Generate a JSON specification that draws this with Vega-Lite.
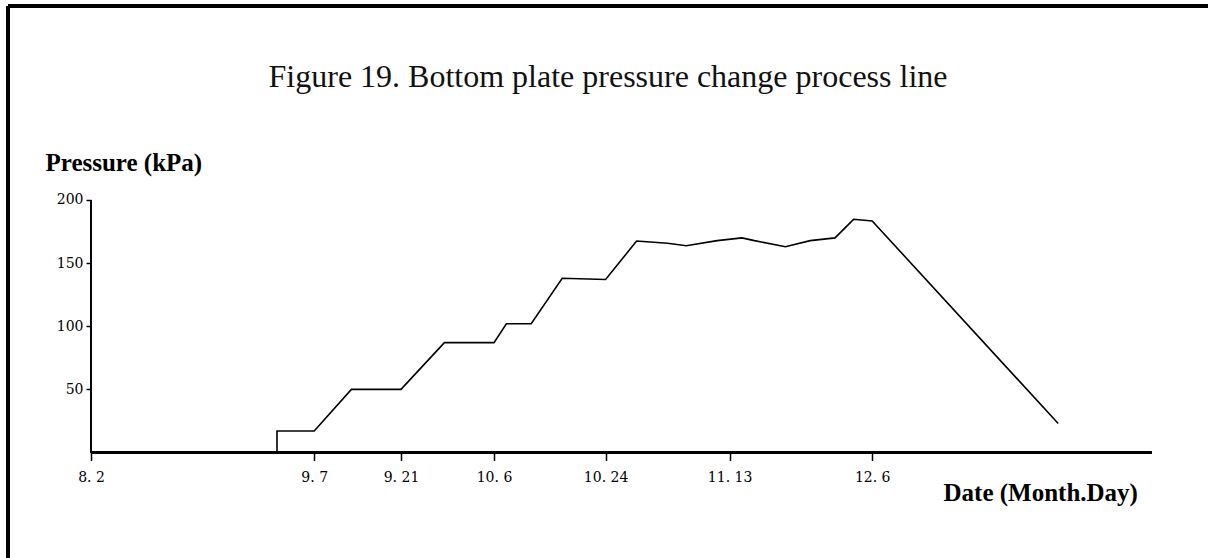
{
  "$schema": "https://vega.github.io/schema/vega-lite/v6.json",
  "width": 1200,
  "height": 552,
  "autosize": {"type": "none"},
  "padding": {"left": 8, "top": 6, "right": 0, "bottom": 0},
  "background": "white",
  "config": {
    "view": {"stroke": null},
    "axis": {
      "domain": false,
      "grid": false,
      "tickColor": "#000",
      "tickWidth": 1.5,
      "labelColor": "#000",
      "labelFont": "DejaVu Serif",
      "labelFontSize": 14,
      "titleColor": "#000",
      "titleFont": "Liberation Serif",
      "titleFontSize": 25,
      "titleFontWeight": "bold"
    }
  },
  "title": {
    "text": "Figure 19. Bottom plate pressure change process line",
    "font": "Liberation Serif",
    "fontSize": 32,
    "fontWeight": "normal",
    "color": "#111",
    "anchor": "middle",
    "frame": "group",
    "baseline": "alphabetic",
    "offset": -114
  },
  "data": {
    "values": [
      {"date": "2008-08-20", "pressure": 0},
      {"date": "2008-09-01", "pressure": 0},
      {"date": "2008-09-01", "pressure": 17},
      {"date": "2008-09-07", "pressure": 17},
      {"date": "2008-09-13", "pressure": 50},
      {"date": "2008-09-21", "pressure": 50},
      {"date": "2008-09-28", "pressure": 87},
      {"date": "2008-10-06", "pressure": 87},
      {"date": "2008-10-08", "pressure": 102},
      {"date": "2008-10-12", "pressure": 102},
      {"date": "2008-10-17", "pressure": 138},
      {"date": "2008-10-24", "pressure": 137},
      {"date": "2008-10-29", "pressure": 167.5},
      {"date": "2008-11-03", "pressure": 165.7},
      {"date": "2008-11-06", "pressure": 163.8},
      {"date": "2008-11-11", "pressure": 167.8},
      {"date": "2008-11-15", "pressure": 170},
      {"date": "2008-11-17", "pressure": 167.8},
      {"date": "2008-11-22", "pressure": 163},
      {"date": "2008-11-26", "pressure": 167.8},
      {"date": "2008-11-30", "pressure": 170},
      {"date": "2008-12-03", "pressure": 184.7},
      {"date": "2008-12-06", "pressure": 183.4},
      {"date": "2009-01-05", "pressure": 23}
    ]
  },
  "layer": [
    {
      "mark": {"type": "line", "color": "#000", "strokeWidth": 1.6},
      "encoding": {
        "x": {
          "field": "date",
          "type": "temporal",
          "scale": {
            "type": "utc",
            "nice": false,
            "domain": [
              {"year": 2008, "month": 7, "date": 19, "hours": 14, "minutes": 43, "utc": true},
              {"year": 2009, "month": 1, "date": 29, "hours": 3, "minutes": 52, "utc": true}
            ]
          },
          "axis": {
            "values": [
              {"year": 2008, "month": 8, "date": 2, "utc": true},
              {"year": 2008, "month": 9, "date": 7, "utc": true},
              {"year": 2008, "month": 9, "date": 21, "utc": true},
              {"year": 2008, "month": 10, "date": 6, "utc": true},
              {"year": 2008, "month": 10, "date": 24, "utc": true},
              {"year": 2008, "month": 11, "date": 13, "utc": true},
              {"year": 2008, "month": 12, "date": 6, "utc": true}
            ],
            "format": "%-m. %-d",
            "labelAngle": 0,
            "labelFlush": false,
            "labelOverlap": false,
            "tickSize": 8,
            "labelPadding": 10,
            "offset": -105.5,
            "title": "Date (Month.Day)",
            "titleAlign": "left",
            "titleBaseline": "alphabetic",
            "titleX": 935,
            "titleY": 47.5
          }
        },
        "y": {
          "field": "pressure",
          "type": "quantitative",
          "scale": {"domain": [-83.56, 353.66], "nice": false, "zero": false},
          "axis": {
            "values": [50, 100, 150, 200],
            "tickSize": 5,
            "labelPadding": 3,
            "offset": -83,
            "title": "Pressure (kPa)",
            "titleAngle": 0,
            "titleAlign": "left",
            "titleBaseline": "alphabetic",
            "titleX": -46,
            "titleY": 164.7
          }
        }
      }
    },
    {
      "mark": {"type": "rule", "color": "#000", "strokeWidth": 1.8},
      "encoding": {
        "x": {"datum": {"year": 2008, "month": 8, "date": 2, "utc": true}, "type": "temporal"},
        "x2": {"datum": {"year": 2009, "month": 1, "date": 20, "utc": true}},
        "y": {"datum": 0, "type": "quantitative"}
      }
    },
    {
      "mark": {"type": "rule", "color": "#000", "strokeWidth": 1.5},
      "encoding": {
        "x": {"datum": {"year": 2008, "month": 8, "date": 2, "utc": true}, "type": "temporal"},
        "y": {"datum": 0, "type": "quantitative"},
        "y2": {"datum": 200}
      }
    },
    {
      "mark": {"type": "rule", "color": "#000", "strokeWidth": 2.5},
      "encoding": {
        "x": {"datum": {"year": 2008, "month": 7, "date": 19, "hours": 14, "minutes": 43, "utc": true}, "type": "temporal"},
        "y": {"datum": 353.66, "type": "quantitative"},
        "y2": {"datum": -200}
      }
    },
    {
      "mark": {"type": "rule", "color": "#000", "strokeWidth": 2.5},
      "encoding": {
        "x": {"datum": {"year": 2008, "month": 7, "date": 19, "hours": 14, "minutes": 43, "utc": true}, "type": "temporal"},
        "x2": {"datum": {"year": 2009, "month": 3, "date": 1, "utc": true}},
        "y": {"datum": 353.66, "type": "quantitative"}
      }
    }
  ]
}
